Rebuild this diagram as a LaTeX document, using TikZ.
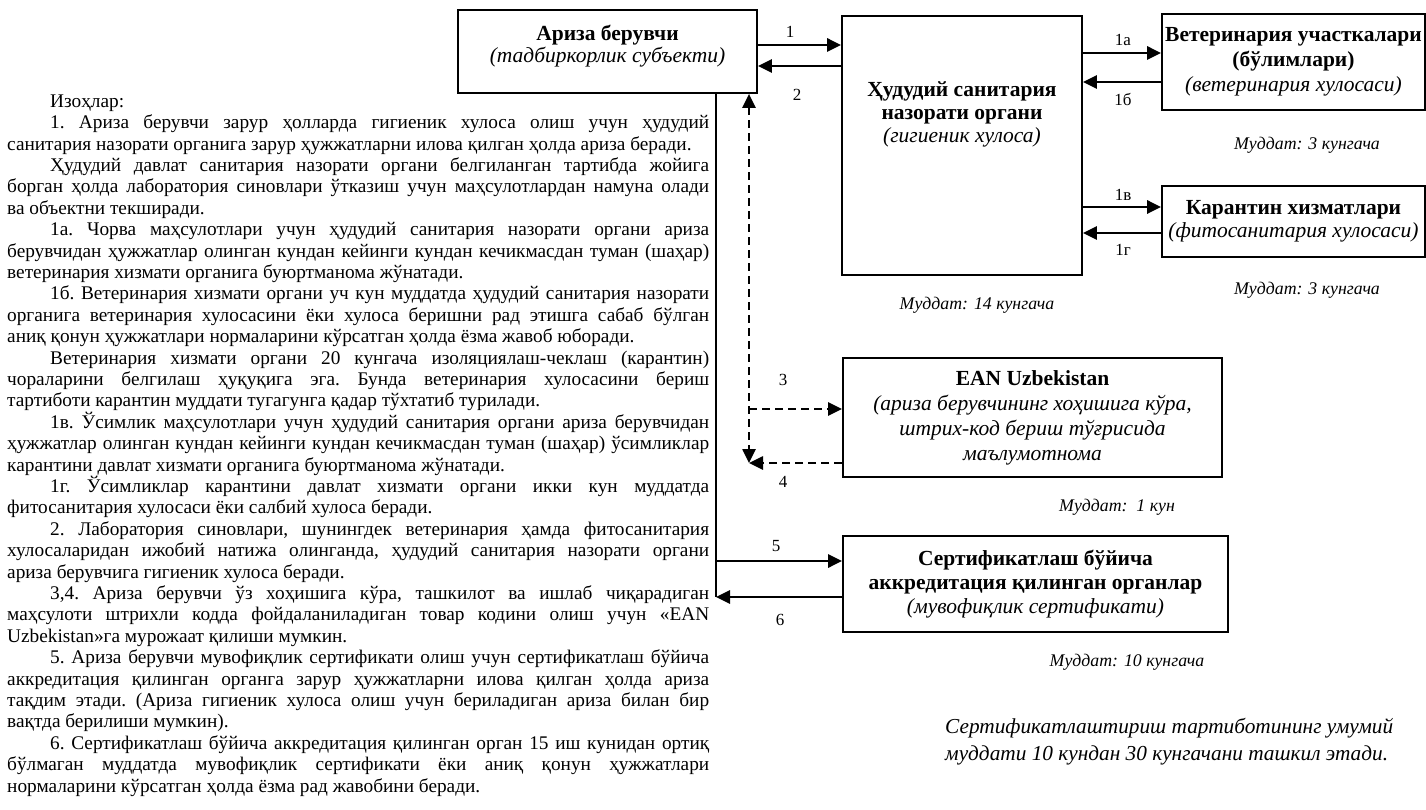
\documentclass[tikz,border=0pt]{standalone}
\usepackage{fontspec}
\setmainfont{Liberation Serif}
\usetikzlibrary{arrows.meta}
\begin{document}
\begin{tikzpicture}[x=1pt,y=-1pt,
  box/.style={draw, line width=1.7pt, inner sep=0pt},
  btxt/.style={align=center, inner sep=0pt, font=\fontsize{21.5}{24}\selectfont},
  arr/.style={line width=2.8pt, -{Triangle[length=14pt,width=13pt]}},
  darr/.style={line width=2.6pt, dash pattern=on 8pt off 5pt, -{Triangle[length=14pt,width=13pt]}},
  lbl/.style={inner sep=0pt, font=\fontsize{17}{19}\selectfont},
  term/.style={inner sep=0pt, font=\fontsize{17.8}{20}\selectfont\itshape},
]
\useasboundingbox (0,0) rectangle (1426,810);

% boxes
\node[box, minimum width=299pt, minimum height=83pt] (ariza) at (607.5,51.5) {};
\node[btxt, font=\fontsize{21.5}{22}\selectfont] (arizat) at (607.5,46) {\textbf{Ариза берувчи}\\\textit{(тадбиркорлик субъекти)}};

\node[box, minimum width=240pt, minimum height=259pt] (san) at (962,145.5) {};
\node[btxt, font=\fontsize{21.5}{23}\selectfont] (sant) at (962,114) {\textbf{Ҳудудий санитария}\\\textbf{назорати органи}\\\textit{(гигиеник хулоса)}};

\node[box, minimum width=263pt, minimum height=96pt, btxt, font=\fontsize{21.5}{25}\selectfont] (vet) at (1293.5,62) {\textbf{Ветеринария участкалари}\\\textbf{(бўлимлари)}\\\textit{(ветеринария хулосаси)}};

\node[box, minimum width=263pt, minimum height=71pt, btxt, font=\fontsize{21.5}{23}\selectfont] (kar) at (1293.5,221.5) {\textbf{Карантин хизматлари}\\\textit{(фитосанитария хулосаси)}};

\node[box, minimum width=379pt, minimum height=119pt, btxt, font=\fontsize{21.5}{25}\selectfont] (ean) at (1032.5,417.5) {\textbf{EAN Uzbekistan}\\\textit{(ариза берувчининг хоҳишига кўра,}\\\textit{штрих-код бериш тўғрисида}\\\textit{маълумотнома}};

\node[box, minimum width=385pt, minimum height=96pt, btxt, font=\fontsize{21.5}{24}\selectfont] (cert) at (1035.5,584) {\textbf{Сертификатлаш бўйича}\\\textbf{аккредитация қилинган органлар}\\\textit{(мувофиқлик сертификати)}};

% row coordinates
\coordinate (r1) at (0,45);
\coordinate (r2) at (0,66);
\coordinate (r1a) at (0,53);
\coordinate (r1b) at (0,82);
\coordinate (r1v) at (0,207);
\coordinate (r1g) at (0,233);
\coordinate (r3) at (0,409);
\coordinate (r5) at (0,561);
\coordinate (r6) at (0,597);
\coordinate (sx) at (716,0);
\coordinate (dx) at (749,0);
\coordinate (dbot) at (749,463);

% connectors
\draw[arr] (ariza.east |- r1) -- (san.west |- r1);
\draw[arr] (san.west |- r2) -- (ariza.east |- r2);
\draw[arr] (san.east |- r1a) -- (vet.west |- r1a);
\draw[arr] (vet.west |- r1b) -- (san.east |- r1b);
\draw[arr] (san.east |- r1v) -- (kar.west |- r1v);
\draw[arr] (kar.west |- r1g) -- (san.east |- r1g);

\draw[line width=1.9pt] (ariza.south -| sx) -- (sx |- r6);
\draw[arr] (sx |- r5) -- (cert.west |- r5);
\draw[arr] (cert.west |- r6) -- (sx |- r6);

\draw[darr, {Triangle[length=14pt,width=13pt]}-{Triangle[length=14pt,width=13pt]}] (ariza.south -| dx) -- (dbot);
\draw[darr] (dx |- r3) -- (ean.west |- r3);
\draw[darr] (ean.west |- dbot) -- (dbot);

% labels
\node[lbl] (l1) at (790,32) {1};
\node[lbl] (l2) at (797,95) {2};
\node[lbl] (l1a) at (1123,40) {1а};
\node[lbl] (l1b) at (1123,100) {1б};
\node[lbl] (l1v) at (1123,195) {1в};
\node[lbl] (l1g) at (1123,250) {1г};
\node[lbl] (l3) at (783,380) {3};
\node[lbl] (l4) at (783,482) {4};
\node[lbl] (l5) at (776,546) {5};
\node[lbl] (l6) at (780,620) {6};

\node[term] (m14) at (977,305) {Муддат: 14 кунгача};
\node[term] (m3a) at (1307,145) {Муддат: 3 кунгача};
\node[term] (m3b) at (1307,290) {Муддат: 3 кунгача};
\node[term] (m1) at (1117,507) {Муддат:\ \ 1 кун};
\node[term] (m10) at (1127,662) {Муддат: 10 кунгача};

\node[inner sep=0pt, anchor=north west, text width=448pt, align=justify, font=\fontsize{21.3}{27}\selectfont\itshape] (note) at (945,718) {Сертификатлаштириш тартиботининг умумий\linebreak муддати 10 кундан 30 кунгачани ташкил этади.};

% explanatory text
\node[inner sep=0pt, anchor=north west, text width=702pt, align=justify, font=\fontsize{19.3}{21.4}\selectfont\frenchspacing] (notes) at (7,94.5) {%
\hspace*{43pt}Изоҳлар:\par
\hspace*{43pt}1. Ариза берувчи зарур ҳолларда гигиеник хулоса олиш учун ҳудудий\linebreak санитария назорати органига зарур ҳужжатларни илова қилган ҳолда ариза беради.\par
\hspace*{43pt}Ҳудудий давлат санитария назорати органи белгиланган тартибда жойига\linebreak борган ҳолда лаборатория синовлари ўтказиш учун маҳсулотлардан намуна олади\linebreak ва объектни текширади.\par
\hspace*{43pt}1а. Чорва маҳсулотлари учун ҳудудий санитария назорати органи ариза\linebreak берувчидан ҳужжатлар олинган кундан кейинги кундан кечикмасдан туман (шаҳар)\linebreak ветеринария хизмати органига буюртманома жўнатади.\par
\hspace*{43pt}1б. Ветеринария хизмати органи уч кун муддатда ҳудудий санитария назорати\linebreak органига ветеринария хулосасини ёки хулоса беришни рад этишга сабаб бўлган\linebreak аниқ қонун ҳужжатлари нормаларини кўрсатган ҳолда ёзма жавоб юборади.\par
\hspace*{43pt}Ветеринария хизмати органи 20 кунгача изоляциялаш-чеклаш (карантин)\linebreak чораларини белгилаш ҳуқуқига эга. Бунда ветеринария хулосасини бериш\linebreak тартиботи карантин муддати тугагунга қадар тўхтатиб турилади.\par
\hspace*{43pt}1в. Ўсимлик маҳсулотлари учун ҳудудий санитария органи ариза берувчидан\linebreak ҳужжатлар олинган кундан кейинги кундан кечикмасдан туман (шаҳар) ўсимликлар\linebreak карантини давлат хизмати органига буюртманома жўнатади.\par
\hspace*{43pt}1г. Ўсимликлар карантини давлат хизмати органи икки кун муддатда\linebreak фитосанитария хулосаси ёки салбий хулоса беради.\par
\hspace*{43pt}2. Лаборатория синовлари, шунингдек ветеринария ҳамда фитосанитария\linebreak хулосаларидан ижобий натижа олинганда, ҳудудий санитария назорати органи\linebreak ариза берувчига гигиеник хулоса беради.\par
\hspace*{43pt}3,4. Ариза берувчи ўз хоҳишига кўра, ташкилот ва ишлаб чиқарадиган\linebreak маҳсулоти штрихли кодда фойдаланиладиган товар кодини олиш учун «EAN\linebreak Uzbekistan»га мурожаат қилиши мумкин.\par
\hspace*{43pt}5. Ариза берувчи мувофиқлик сертификати олиш учун сертификатлаш бўйича\linebreak аккредитация қилинган органга зарур ҳужжатларни илова қилган ҳолда ариза\linebreak тақдим этади. (Ариза гигиеник хулоса олиш учун бериладиган ариза билан бир\linebreak вақтда берилиши мумкин).\par
\hspace*{43pt}6. Сертификатлаш бўйича аккредитация қилинган орган 15 иш кунидан ортиқ\linebreak бўлмаган муддатда мувофиқлик сертификати ёки аниқ қонун ҳужжатлари\linebreak нормаларини кўрсатган ҳолда ёзма рад жавобини беради.};
\end{tikzpicture}
\end{document}
